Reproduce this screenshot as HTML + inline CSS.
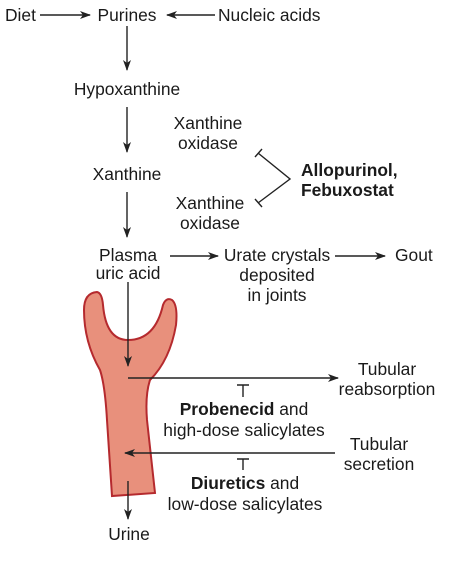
<!DOCTYPE html>
<html><head><meta charset="utf-8"><style>
html,body{margin:0;padding:0;background:#fff;}
svg{display:block;}
text{font-family:"Liberation Sans",sans-serif;font-size:17.4px;fill:#1a1a1a;}
.b{font-weight:bold;}
</style></head><body>
<svg width="453" height="574" viewBox="0 0 453 574">
<defs><marker id="ah" markerWidth="11" markerHeight="8" refX="10" refY="4" orient="auto" markerUnits="userSpaceOnUse"><path d="M0,0 L11,4 L0,8 L3,4 Z" fill="#222"/></marker></defs>
<path d="M112,496 L107,420 Q105,385 100,370 Q84,342 84,310 Q84,293 97,292 Q102,293 103,305 Q106,340 128,340 Q155,340 163,305 Q166,297 172,300 Q178,305 176,325 Q170,360 150,380 Q145,395 147,420 L155,493 Z" fill="#e8907c" stroke="#b52a2e" stroke-width="2"/>
<g stroke="#222" stroke-width="1.4" fill="none">
<line x1="40" y1="15" x2="90" y2="15" marker-end="url(#ah)"/>
<line x1="215" y1="15" x2="167" y2="15" marker-end="url(#ah)"/>
<line x1="127" y1="26" x2="127" y2="70" marker-end="url(#ah)"/>
<line x1="127" y1="107" x2="127" y2="152" marker-end="url(#ah)"/>
<line x1="127" y1="192" x2="127" y2="237" marker-end="url(#ah)"/>
<line x1="170" y1="256" x2="218" y2="256" marker-end="url(#ah)"/>
<line x1="335" y1="256" x2="385" y2="256" marker-end="url(#ah)"/>
<line x1="128" y1="282" x2="128" y2="366" marker-end="url(#ah)"/>
<line x1="128" y1="378" x2="338" y2="378" marker-end="url(#ah)"/>
<line x1="335" y1="453" x2="125" y2="453" marker-end="url(#ah)"/>
<line x1="128" y1="481" x2="128" y2="519" marker-end="url(#ah)"/>
<path d="M243,385 V397 M237,385 H249"/>
<path d="M243,459 V470 M237,459 H249"/>
<path d="M258,153 L290,179 L258,203 M255,157 L262,149 M255,199 L262,207"/>
</g>
<text x="5" y="21">Diet</text>
<text x="127" y="21" text-anchor="middle">Purines</text>
<text x="218" y="21">Nucleic acids</text>
<text x="127" y="95" text-anchor="middle">Hypoxanthine</text>
<text x="127" y="180" text-anchor="middle">Xanthine</text>
<text x="208" y="129" text-anchor="middle">Xanthine<tspan x="208" dy="20">oxidase</tspan></text>
<text x="210" y="209" text-anchor="middle">Xanthine<tspan x="210" dy="20">oxidase</tspan></text>
<text x="301" y="176" class="b">Allopurinol,<tspan x="301" dy="20">Febuxostat</tspan></text>
<text x="128" y="261" text-anchor="middle">Plasma<tspan x="128" dy="18">uric acid</tspan></text>
<text x="277" y="261" text-anchor="middle">Urate crystals<tspan x="277" dy="20">deposited</tspan><tspan x="277" dy="20">in joints</tspan></text>
<text x="395" y="261">Gout</text>
<text x="387" y="375" text-anchor="middle">Tubular<tspan x="387" dy="20">reabsorption</tspan></text>
<text x="244" y="415" text-anchor="middle"><tspan class="b">Probenecid</tspan> and<tspan x="244" dy="21">high-dose salicylates</tspan></text>
<text x="379" y="450" text-anchor="middle">Tubular<tspan x="379" dy="20">secretion</tspan></text>
<text x="245" y="489" text-anchor="middle"><tspan class="b">Diuretics</tspan> and<tspan x="245" dy="21">low-dose salicylates</tspan></text>
<text x="129" y="540" text-anchor="middle">Urine</text>
</svg>
</body></html>
